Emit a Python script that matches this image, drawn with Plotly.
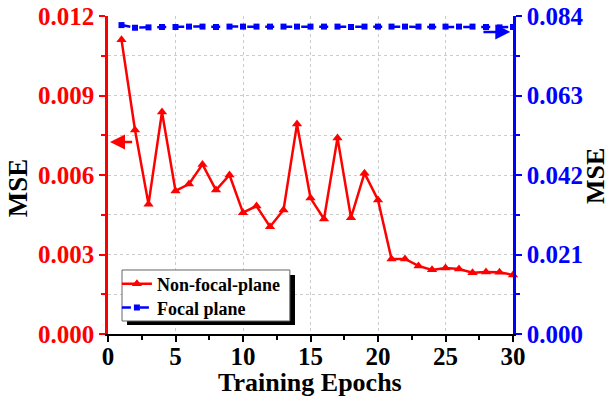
import plotly.graph_objects as go

epochs = list(range(1, 31))
non_focal = [0.0111, 0.0077, 0.0049, 0.00838, 0.0054, 0.00566, 0.0064, 0.00543, 0.0060, 0.00458,
             0.00483, 0.00405, 0.00468, 0.00792, 0.00513, 0.00434, 0.0074, 0.00439, 0.00607, 0.00506,
             0.00283, 0.00283, 0.00257, 0.00242, 0.00249, 0.00245, 0.00231, 0.00234, 0.00233, 0.00223]
focal = [0.0816, 0.0809, 0.0810, 0.0811, 0.0811, 0.0812, 0.0812, 0.0811, 0.0812, 0.0812,
         0.0812, 0.0812, 0.0812, 0.0812, 0.0812, 0.0812, 0.0812, 0.0811, 0.0812, 0.0812,
         0.0812, 0.0812, 0.0812, 0.0812, 0.0812, 0.0812, 0.0812, 0.0811, 0.0810, 0.0811]
left_ticks = [0.000, 0.003, 0.006, 0.009, 0.012]
right_ticks = [0.000, 0.021, 0.042, 0.063, 0.084]
x_ticks = [0, 5, 10, 15, 20, 25, 30]

RED = "#ff0000"
BLUE = "#0000ff"
FONT = "Liberation Serif"
GRID = "#cccccc"

fig = go.Figure()
fig.add_trace(go.Scatter(x=epochs, y=non_focal, name="Non-focal-plane", mode="lines+markers",
                         line=dict(color=RED, width=2.5), legend="legend",
                         marker=dict(symbol="triangle-up", size=9, color=RED), yaxis="y", cliponaxis=False))
fig.add_trace(go.Scatter(x=epochs, y=focal, name="Focal plane", mode="lines+markers",
                         line=dict(color=BLUE, width=2.5, dash="dash"), legend="legend2",
                         marker=dict(symbol="square", size=6, color=BLUE), yaxis="y2", cliponaxis=False))

legend_font = dict(family=FONT, size=18, color="black", weight="bold")
fig.update_layout(
    width=609, height=403,
    margin=dict(l=108, r=96, t=16, b=69),
    paper_bgcolor="white", plot_bgcolor="white",
    font=dict(family=FONT),
    xaxis=dict(range=[0, 30], tickvals=x_ticks, ticks="outside", ticklen=6, tickwidth=2,
               tickcolor="black", linecolor="black", linewidth=2, showline=True, automargin=False,
               tickfont=dict(family=FONT, size=25, color="black", weight="bold"), ticklabelstandoff=-7,
               showgrid=True, gridcolor=GRID, griddash="dot", gridwidth=1,
               minor=dict(dtick=2.5, ticks="outside", ticklen=4, tickwidth=2, tickcolor="black", showgrid=False),
               zeroline=False),
    xaxis2=dict(range=[0, 30], overlaying="x", side="top", tickvals=x_ticks, ticks="inside", ticklen=6,
                tickwidth=2, tickcolor="black", showline=True, linecolor="black", linewidth=2,
                showticklabels=False, showgrid=False, zeroline=False, automargin=False,
                minor=dict(dtick=2.5, ticks="inside", ticklen=4, tickwidth=2, tickcolor="black")),
    yaxis=dict(range=[0, 0.012], tickvals=left_ticks, tickformat=".3f", ticks="outside", ticklen=6,
               tickwidth=2, tickcolor=RED, linecolor=RED, linewidth=2.5, showline=True, automargin=False,
               tickfont=dict(family=FONT, size=25, color=RED, weight="bold"),
               showgrid=True, gridcolor=GRID, griddash="dot", gridwidth=1, zeroline=False,
               minor=dict(dtick=0.0015, ticks="outside", ticklen=4, tickwidth=2, tickcolor=RED,
                          showgrid=True, gridcolor=GRID, griddash="dot", gridwidth=1)),
    yaxis2=dict(range=[0, 0.084], tickvals=right_ticks, tickformat=".3f", overlaying="y", side="right",
                ticks="outside", ticklen=6, tickwidth=2, tickcolor=BLUE, linecolor=BLUE, linewidth=2.5,
                showline=True, automargin=False,
                tickfont=dict(family=FONT, size=25, color=BLUE, weight="bold"),
                showgrid=False, zeroline=False,
                minor=dict(dtick=0.0105, ticks="outside", ticklen=4, tickwidth=2, tickcolor=BLUE)),
    showlegend=True,
    legend=dict(x=0.022, y=0.157, xanchor="left", yanchor="middle", bgcolor="rgba(0,0,0,0)",
                borderwidth=0, font=legend_font, itemwidth=30),
    legend2=dict(x=0.022, y=0.082, xanchor="left", yanchor="middle", bgcolor="rgba(0,0,0,0)",
                 borderwidth=0, font=legend_font, itemwidth=30),
)

# axis titles
title_font = dict(family=FONT, size=27, color="black", weight="bold")
fig.add_annotation(text="Training Epochs", xref="paper", yref="paper", x=0.499, y=-0.151,
                   xanchor="center", yanchor="middle", showarrow=False,
                   font=dict(family=FONT, size=26, color="black", weight="bold"))
fig.add_annotation(text="MSE", xref="paper", yref="paper", x=-0.222, y=0.459, textangle=-90,
                   xanchor="center", yanchor="middle", showarrow=False, font=title_font)
fig.add_annotation(text="MSE", xref="paper", yref="paper", x=1.205, y=0.497, textangle=-90,
                   xanchor="center", yanchor="middle", showarrow=False,
                   font=dict(family=FONT, size=26, color="black", weight="bold"))

# legend frame with drop shadow
fig.add_shape(type="rect", xref="paper", yref="paper", x0=0.047, x1=0.4617, y0=0.0283, y1=0.1855,
              fillcolor="black", line=dict(width=0), layer="above")
fig.add_shape(type="rect", xref="paper", yref="paper", x0=0.0346, x1=0.449, y0=0.0409, y1=0.2013,
              fillcolor="white", line=dict(width=1, color="#666666"), layer="above")

# axis-indicating arrows
fig.add_annotation(x=0.15, y=0.00725, ax=1.9, ay=0.00725, xref="x", yref="y", axref="x", ayref="y",
                   text="", showarrow=True, arrowhead=2, arrowsize=1.2, arrowwidth=2.5, arrowcolor=RED)
fig.add_annotation(x=29.8, y=0.0798, ax=27.7, ay=0.0798, xref="x", yref="y2", axref="x", ayref="y2",
                   text="", showarrow=True, arrowhead=2, arrowsize=1.2, arrowwidth=2.5, arrowcolor=BLUE)

fig.write_html("out.html")
